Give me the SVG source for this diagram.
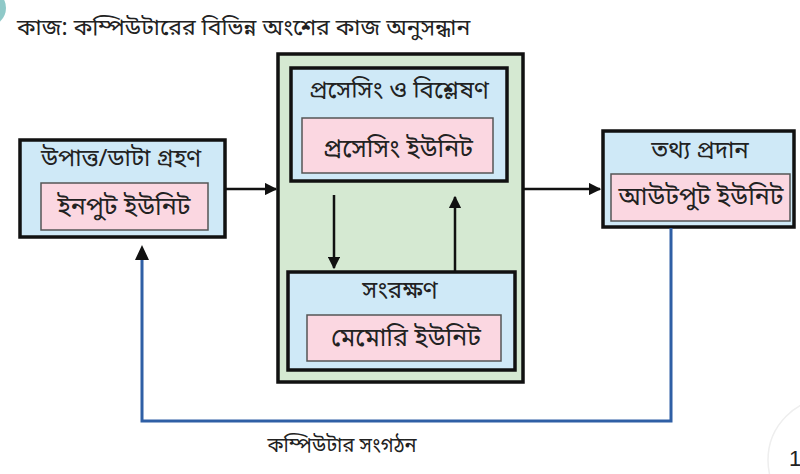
<svg xmlns="http://www.w3.org/2000/svg" width="800" height="474" viewBox="0 0 800 474">
<defs>
<style>
text{font-family:"Noto Sans Bengali","Noto Serif Bengali","Lohit Bengali","Noto Sans","DejaVu Sans",sans-serif;fill:#222;text-anchor:middle}
.outer{fill:#cfe9f7;stroke:#111;stroke-width:3.5}
.inner{fill:#fbd7e1;stroke:#555;stroke-width:1.5}
.green{fill:#d5e9d2;stroke:#111;stroke-width:3.5}
.t{font-size:24px}
.u{font-size:25px}
.arr{stroke:#111;stroke-width:2.5;fill:none}
.blue{stroke:#2f5fa5;stroke-width:3;fill:none}
</style>
<marker id="ah" viewBox="0 0 10 10" refX="9" refY="5" markerWidth="5" markerHeight="5" markerUnits="strokeWidth" orient="auto">
<path d="M0,0 L10,5 L0,10 z" fill="#111"/>
</marker>
</defs>
<rect width="800" height="474" fill="#fff"/>
<circle cx="-12" cy="8" r="18" fill="#8fc9c8"/>
<circle cx="830" cy="460" r="62" fill="none" stroke="#eee" stroke-width="1.5"/>
<text x="789" y="466" style="font-size:22px;font-family:'Liberation Sans',sans-serif;text-anchor:start">1</text>
<text x="17" y="35" style="font-size:23px;text-anchor:start">কাজ: কম্পিউটারের বিভিন্ন অংশের কাজ অনুসন্ধান</text>

<g id="input">
<rect class="outer" x="20" y="140" width="205" height="97"/>
<text class="t" x="121" y="166">উপাত্ত/ডাটা গ্রহণ</text>
<rect class="inner" x="41" y="183" width="167" height="47"/>
<text class="u" x="124" y="215">ইনপুট ইউনিট</text>
</g>

<g id="cpu">
<rect class="green" x="278" y="54" width="245" height="328"/>
</g>

<g id="processing">
<rect class="outer" x="291" y="68" width="216" height="113"/>
<text class="t" x="399" y="98">প্রসেসিং ও বিশ্লেষণ</text>
<rect class="inner" x="302" y="118" width="191" height="55"/>
<text class="u" x="398" y="157">প্রসেসিং ইউনিট</text>
</g>

<g id="memory">
<rect class="outer" x="288" y="272" width="227" height="98"/>
<text class="t" x="400" y="298">সংরক্ষণ</text>
<rect class="inner" x="307" y="315" width="194" height="46"/>
<text class="u" x="406" y="346">মেমোরি ইউনিট</text>
</g>

<g id="output">
<rect class="outer" x="603" y="131" width="191" height="96"/>
<text class="t" x="700" y="158">তথ্য প্রদান</text>
<rect class="inner" x="611" y="174" width="179" height="47"/>
<text class="u" x="701" y="205">আউটপুট ইউনিট</text>
</g>

<g id="connectors">
<line class="arr" x1="226" y1="189" x2="276" y2="189" marker-end="url(#ah)"/>
<line class="arr" x1="524" y1="189" x2="600" y2="189" marker-end="url(#ah)"/>
<line class="arr" x1="334" y1="195" x2="334" y2="268" marker-end="url(#ah)"/>
<line class="arr" x1="455" y1="271" x2="455" y2="197" marker-end="url(#ah)"/>
<polyline class="blue" points="671,228 671,421 142,421 142,249"/>
<path d="M135,260 L142,245 L149,260 z" fill="#111"/>
</g>
<text x="342" y="452" style="font-size:20px">কম্পিউটার সংগঠন</text>
</svg>
